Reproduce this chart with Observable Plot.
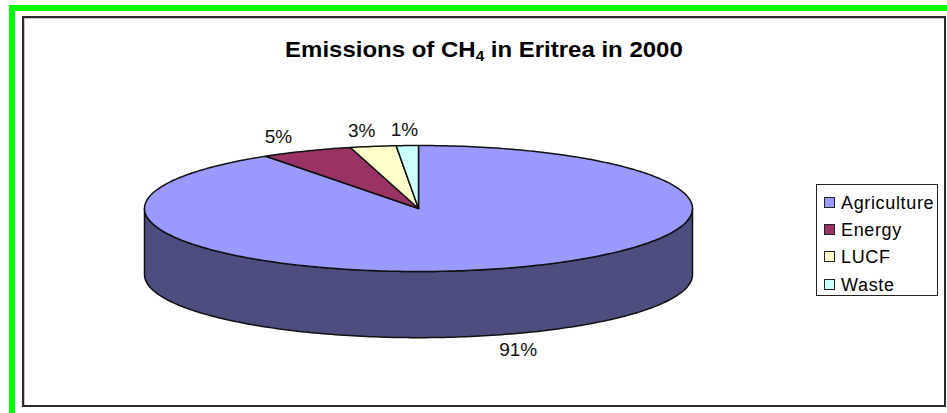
<!DOCTYPE html>
<html><head><meta charset="utf-8">
<script src="https://cdn.jsdelivr.net/npm/d3@7"></script>
<script src="https://cdn.jsdelivr.net/npm/@observablehq/plot@0.6"></script>
<style>
html,body{margin:0;padding:0;background:#fff;width:947px;height:413px;overflow:hidden;font-family:"Liberation Sans",Arial,sans-serif;color:#000}
#greenTop{position:absolute;left:9px;top:5px;right:0;height:6px;background:#00ff00}
#greenLeft{position:absolute;left:9px;top:5px;bottom:0;width:6px;background:#00ff00}
#frame{position:absolute;left:22px;top:16px;width:920px;height:387px;border:2px solid #2a2a2a;box-shadow:inset 1px 1px 0 #c4c4c4;box-sizing:content-box}
#title{position:absolute;left:22px;width:924px;top:38px;text-align:center;font-weight:bold;font-size:22px;line-height:24px;transform:scaleX(1.09);transform-origin:50.1% 50%}
#title sub{font-size:14px;line-height:0;vertical-align:-4px}
#chart{position:absolute;left:0;top:0}
#legend{position:absolute;left:816px;top:184px;width:120px;height:110px;border:1.5px solid #222;background:#fff;font-size:18px;letter-spacing:0.65px}
.item{position:absolute;left:7px;height:20px;line-height:20px;white-space:nowrap}
.sw{position:absolute;left:0;top:4px;width:9px;height:9px;border:1.5px solid #222}
.lab{position:absolute;left:17px;top:0}
</style></head><body>
<div id="greenTop"></div><div id="greenLeft"></div><div id="frame"></div>
<div id="title">Emissions of CH<sub>4</sub> in Eritrea in 2000</div>
<div id="chart"></div>
<div id="legend"></div>
<script>
const categories = ["Agriculture", "Energy", "LUCF", "Waste"];
const values = [90.6, 5.4, 2.7, 1.3];
const labels = ["91%", "5%", "3%", "1%"];
const colors = ["#9999ff", "#993366", "#ffffcc", "#ccffff"];
const wallColor = "#4d4d80";
const depth = 1.05;      // wall height, in units of the vertical radius
const labelRadius = 1.25;

const arcs = d3.pie().sort(null).value(d => d)(values);
const pt = (t, drop = 0) => ({x: Math.sin(t), y: Math.cos(t) - drop});
const sweep = (a, b, drop = 0) => {
  const n = Math.max(2, Math.ceil(Math.abs(b - a) * 60));
  return d3.range(n + 1).map(i => pt(a + (b - a) * i / n, drop));
};

const slices = arcs.flatMap((a, i) => {
  const ring = [{x: 0, y: 0}, ...sweep(a.startAngle, a.endAngle), {x: 0, y: 0}];
  return ring.map(p => ({...p, name: categories[i], fill: colors[i]}));
});
const wallRing = [
  ...sweep(Math.PI / 2, 3 * Math.PI / 2),
  ...sweep(3 * Math.PI / 2, Math.PI / 2, depth)
];
const wall = [...wallRing, wallRing[0]];

const labelData = arcs.map((a, i) => {
  const mid = (a.startAngle + a.endAngle) / 2;
  const p = pt(mid);
  const front = Math.cos(mid) < 0;
  return {x: p.x * labelRadius, y: p.y * labelRadius - (front ? depth : 0), text: labels[i]};
});

const plot = Plot.plot({
  width: 947, height: 413, margin: 0,
  style: {background: "transparent", overflow: "visible"},
  x: {domain: [-1, 1], range: [144, 692], axis: null},
  y: {domain: [-1, 1], range: [271, 145], axis: null},
  marks: [
    Plot.line(wall, {x: "x", y: "y", fill: wallColor, stroke: "#111", strokeWidth: 1.5, curve: "linear"}),
    Plot.line(slices, {x: "x", y: "y", z: "name", fill: "fill", stroke: "#111", strokeWidth: 1.5, curve: "linear"}),
    Plot.text(labelData, {x: "x", y: "y", text: "text", fontSize: 19, fontFamily: "Liberation Sans", fill: "#111"})
  ]
});
document.getElementById("chart").appendChild(plot);

const legend = document.getElementById("legend");
categories.forEach((c, i) => {
  const it = document.createElement("div");
  it.className = "item";
  it.style.top = (7.5 + i * 27.4) + "px";
  it.innerHTML = `<span class="sw" style="background:${colors[i]}"></span><span class="lab">${c}</span>`;
  legend.appendChild(it);
});
</script>
</body></html>
